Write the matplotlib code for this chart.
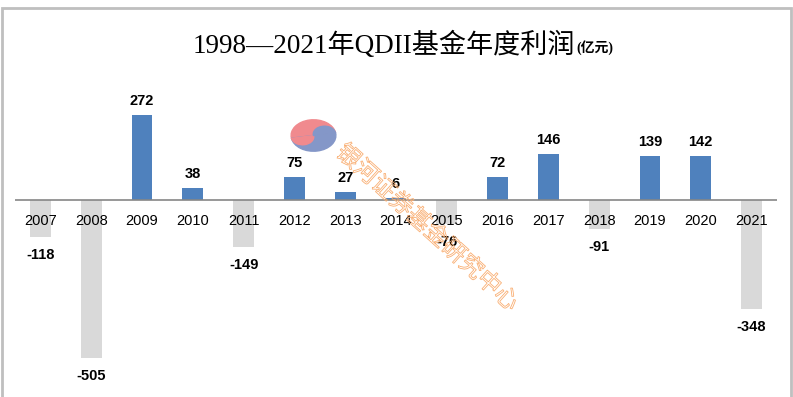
import matplotlib
matplotlib.use("Agg")
import matplotlib.pyplot as plt
import matplotlib.patches as mpatches
import matplotlib.patheffects as pe

years = ["2007", "2008", "2009", "2010", "2011", "2012", "2013", "2014",
         "2015", "2016", "2017", "2018", "2019", "2020", "2021"]
profit = [-118, -505, 272, 38, -149, 75, 27, 6, -76, 72, 146, -91, 139, 142, -348]

W, H = 793, 397
fig = plt.figure(figsize=(W / 100, H / 100), dpi=100)

# axes in pixel units: x 15..777, y 0..357 from bottom
ax = fig.add_axes([15 / W, 0, 762 / W, 357 / H])
x = list(range(len(years)))
colors = ["#4F81BD" if v >= 0 else "#D9D9D9" for v in profit]
ax.bar(x, profit, width=0.41, color=colors, zorder=2)
ax.set_xlim(-0.5, len(years) - 0.5)
ax.set_ylim(-629, 511)
ax.axhline(0, color="#868686", lw=1.2, zorder=3)
ax.axis("off")

for i, v in enumerate(profit):
    ax.annotate(years[i], (i, 0), xytext=(0, -21), textcoords="offset pixels",
                ha="center", va="center", fontsize=10.5, family="Liberation Sans", zorder=5)
    off = 14 if v >= 0 else -18
    ax.annotate(str(v), (i, v), xytext=(0, off), textcoords="offset pixels",
                ha="center", va="center", fontsize=10.5, fontweight="bold",
                family="Liberation Sans", zorder=5)

# title, unit placed right after
fam = ["Liberation Serif", "Noto Sans CJK SC"]
t = fig.text(193 / W, 1 - 45 / H, "1998—2021年QDII基金年度利润", ha="left", va="center",
             fontsize=19.5, family=fam)
fig.canvas.draw()
bb = t.get_window_extent()
fig.text(bb.x1 / W + 0.001, 1 - 48 / H, "(亿元)", ha="left", va="center",
         fontsize=10, fontweight="bold", family=fam)

# watermark logo
lax = fig.add_axes([290 / W, 1 - 152 / H, 47 / W, 33 / H])
lax.set_xlim(-1.05, 1.05)
lax.set_ylim(-1.05, 1.05)
lax.axis("off")
red, blue = "#F08A8E", "#8497C8"
lax.add_patch(mpatches.Wedge((0, 0), 1, 10, 190, color=red))
lax.add_patch(mpatches.Wedge((0, 0), 1, 190, 370, color=blue))
lax.add_patch(mpatches.Wedge((-0.49, -0.09), 0.5, 190, 370, color=red))
lax.add_patch(mpatches.Wedge((0.49, 0.09), 0.5, 10, 190, color=blue))

# watermark text, outline only
fig.text(427 / W, 1 - 228 / H, "银河证券基金研究中心", ha="center", va="center",
         rotation=-42, fontsize=17, color=(1, 1, 1, 0), family="Noto Sans CJK SC",
         path_effects=[pe.withStroke(linewidth=0.6, foreground="#F9AE72")], zorder=10)

# frame
fig.add_artist(mpatches.Rectangle((1.5 / W, -0.05), 789.5 / W, 1.05 - 8.5 / H,
                                  transform=fig.transFigure, fill=False,
                                  edgecolor="#BFBFBF", lw=2))

fig.savefig("out.png", dpi=100)
